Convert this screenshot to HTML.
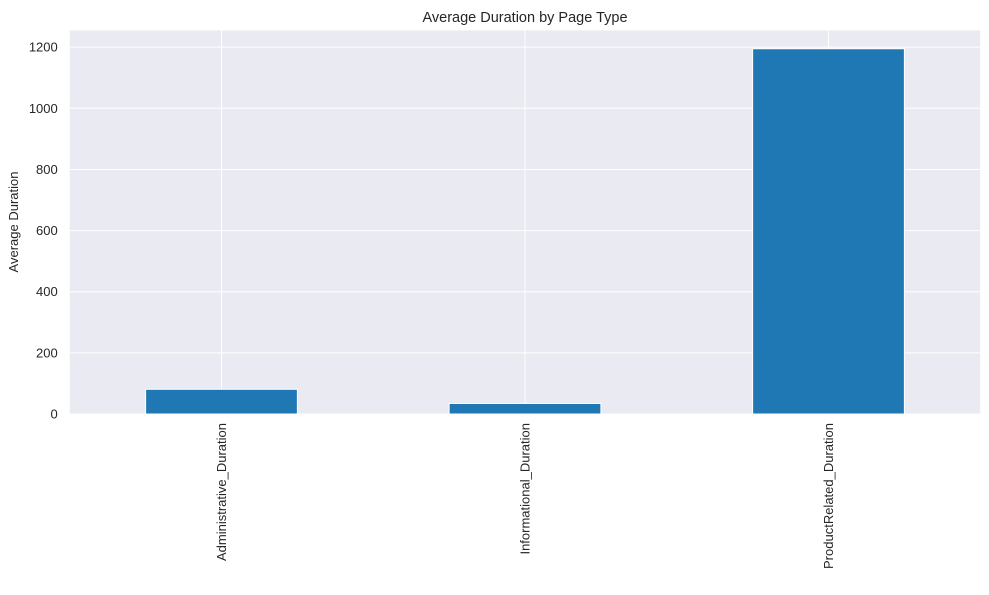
<!DOCTYPE html>
<html><head><meta charset="utf-8"><style>
body{margin:0;background:#fff;font-family:"Liberation Sans","DejaVu Sans",sans-serif;}
svg text{font-family:"Liberation Sans","DejaVu Sans",sans-serif;fill:#262626;}
</style></head><body>
<svg id="chart" width="989" height="590" xmlns="http://www.w3.org/2000/svg">
<rect id="plot" x="69.75" y="30.5" width="910.5" height="383.5" fill="#eaeaf2"/>
<g id="grid"></g>
<g id="bars"></g>
<g id="labels"></g>
<text x="525" y="22" font-size="14.5" text-anchor="middle">Average Duration by Page Type</text>
<text transform="translate(18,222) rotate(-90)" font-size="13" text-anchor="middle">Average Duration</text>
</svg>
<script>
const categories = ["Administrative_Duration","Informational_Duration","ProductRelated_Duration"];
const values = [80.82, 34.47, 1194.75];
const yTicks = [0,200,400,600,800,1000,1200];

const left=69.75, right=980.25, y0=414, yTop=30.5;
const yMax = Math.max(...values)*1.05;
const ys = v => y0 - v*(y0-yTop)/yMax;
const step=(right-left)/categories.length;
const xc = i => left + step*(i+0.5);
const ns="http://www.w3.org/2000/svg";
const grid=document.getElementById('grid'), bars=document.getElementById('bars'), labels=document.getElementById('labels');
yTicks.forEach(t=>{
  const l=document.createElementNS(ns,'line');
  
  
  l.setAttribute('x1',left);l.setAttribute('x2',right);l.setAttribute('y1',ys(t));l.setAttribute('y2',ys(t));
  l.setAttribute('stroke','#fff');l.setAttribute('stroke-width','1');
  grid.appendChild(l);
  const tx=document.createElementNS(ns,'text');
  
  
  tx.setAttribute('x',left-12);tx.setAttribute('y',ys(t)+4.5);
  tx.setAttribute('font-size','13');tx.setAttribute('text-anchor','end');
  tx.textContent=t;labels.appendChild(tx);
});
categories.forEach((c,i)=>{
  const l=document.createElementNS(ns,'line');
  
  
  l.setAttribute('x1',xc(i));l.setAttribute('x2',xc(i));l.setAttribute('y1',yTop);l.setAttribute('y2',y0);
  l.setAttribute('stroke','#fff');
  grid.appendChild(l);
  const r=document.createElementNS(ns,'rect');
  
  
  const w=step*0.5;
  r.setAttribute('x',xc(i)-w/2);r.setAttribute('width',w);
  r.setAttribute('y',ys(values[i]));r.setAttribute('height',y0-ys(values[i]));
  r.setAttribute('fill','#1f77b4');r.setAttribute('stroke','#fff');r.setAttribute('stroke-width','1');
  bars.appendChild(r);
  const tx=document.createElementNS(ns,'text');
  
  
  tx.setAttribute('transform','translate('+(xc(i)+4.5)+','+(y0+9)+') rotate(-90)');
  tx.setAttribute('font-size','13');tx.setAttribute('text-anchor','end');
  tx.textContent=c;labels.appendChild(tx);
});
</script>
</body></html>
